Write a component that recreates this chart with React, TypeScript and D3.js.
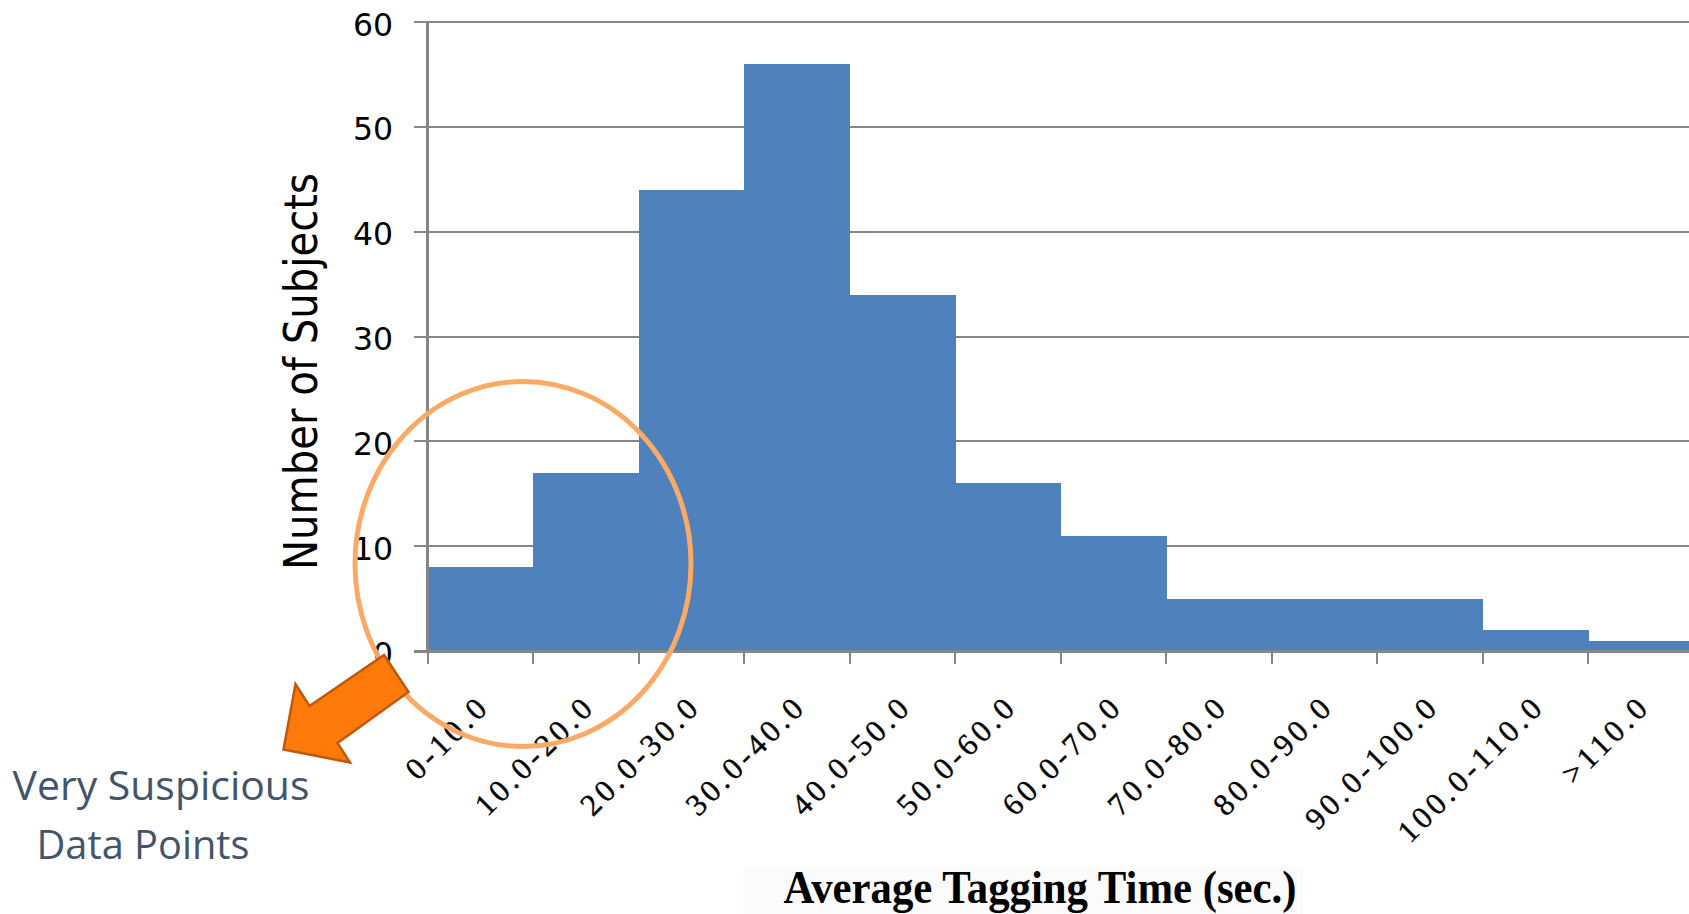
import * as d3 from "d3";

const categories = [
  "0-10.0",
  "10.0-20.0",
  "20.0-30.0",
  "30.0-40.0",
  "40.0-50.0",
  "50.0-60.0",
  "60.0-70.0",
  "70.0-80.0",
  "80.0-90.0",
  "90.0-100.0",
  "100.0-110.0",
  ">110.0",
];
const counts = [8, 17, 44, 56, 34, 16, 11, 5, 5, 5, 2, 1];
const yTicks = [0, 10, 20, 30, 40, 50, 60];

const W = 1689;
const H = 914;
const axisX = 427.5;
const baseY = 651;
const topY = 22;
const band = 105.5;

const App = () => {
  const x = d3
    .scaleBand()
    .domain(categories)
    .range([axisX, axisX + band * categories.length])
    .padding(0);

  const y = d3.scaleLinear().domain([0, 60]).range([baseY, topY]);

  // block arrow pointing to the suspicious bins
  const arrow = d3.line()([
    [384, 655],
    [408.5, 692],
    [337.5, 743],
    [350, 762.5],
    [283.5, 749.5],
    [295.5, 684],
    [309.5, 706],
  ]) + "Z";

  return (
    <div style={{ position: "absolute", left: 0, top: 0 }}>
      <svg width={W} height={H} viewBox={`0 0 ${W} ${H}`} style={{ display: "block", background: "#fff" }}>
        <rect x={743} y={867} width={560} height={47} fill="#fbfbfb" />

        {yTicks.map((t) => (
          <line
            key={"g" + t}
            x1={414}
            x2={W}
            y1={Math.round(y(t))}
            y2={Math.round(y(t))}
            stroke="#868686"
            strokeWidth={2}
            shapeRendering="crispEdges"
          />
        ))}

        {categories.map((c, i) => (
          <rect
            key={c}
            x={x(c)}
            y={y(counts[i])}
            width={x.bandwidth() + 0.6}
            height={baseY - y(counts[i])}
            fill="#4f81bd"
            shapeRendering="crispEdges"
          />
        ))}

        <line x1={axisX} x2={axisX} y1={topY} y2={baseY} stroke="#868686" strokeWidth={2.5} shapeRendering="crispEdges" />
        <line x1={414} x2={W} y1={baseY} y2={baseY} stroke="#868686" strokeWidth={3} shapeRendering="crispEdges" />
        {categories.map((c) => (
          <line
            key={"t" + c}
            x1={x(c)}
            x2={x(c)}
            y1={baseY}
            y2={baseY + 13}
            stroke="#868686"
            strokeWidth={2}
            shapeRendering="crispEdges"
          />
        ))}

        {yTicks.map((t) => (
          <text
            key={"l" + t}
            x={393}
            y={y(t) + 13.5}
            textAnchor="end"
            fontFamily="DejaVu Sans, Verdana, sans-serif"
            fontSize={31.5}
            fill="#000"
          >
            {t}
          </text>
        ))}

        {categories.map((c) => (
          <text
            key={"x" + c}
            transform={`translate(${x(c) + x.bandwidth() / 2 + 11},708) rotate(-45)`}
            textAnchor="end"
            fontFamily="Liberation Serif, Times New Roman, serif"
            fontSize={31}
            letterSpacing={4}
            fill="#000"
            stroke="#000"
            strokeWidth={0.4}
          >
            {c}
          </text>
        ))}

        <text
          transform="translate(316.5,371.5) rotate(-90)"
          textAnchor="middle"
          fontFamily="DejaVu Sans, Verdana, sans-serif"
          fontSize={46}
          textLength={397}
          lengthAdjust="spacingAndGlyphs"
          fill="#000"
        >
          Number of Subjects
        </text>

        <text
          x={1040}
          y={903}
          textAnchor="middle"
          fontFamily="Liberation Serif, Times New Roman, serif"
          fontSize={46}
          fontWeight="bold"
          textLength={513}
          lengthAdjust="spacingAndGlyphs"
          fill="#000"
        >
          Average Tagging Time (sec.)
        </text>

        <ellipse cx={523} cy={564} rx={168} ry={182.5} fill="none" stroke="#fbaa66" strokeWidth={5} />

        <path d={arrow} fill="#fd790a" stroke="#c0580e" strokeWidth={2.5} strokeLinejoin="miter" />

        <text
          x={12.5}
          y={800}
          fontFamily="Open Sans, Noto Sans, sans-serif"
          fontSize={40}
          textLength={297}
          lengthAdjust="spacingAndGlyphs"
          fill="#44546a"
        >
          Very Suspicious
        </text>
        <text
          x={36.5}
          y={859}
          fontFamily="Open Sans, Noto Sans, sans-serif"
          fontSize={40}
          textLength={213}
          lengthAdjust="spacingAndGlyphs"
          fill="#44546a"
        >
          Data Points
        </text>
      </svg>
    </div>
  );
};

export default App;
